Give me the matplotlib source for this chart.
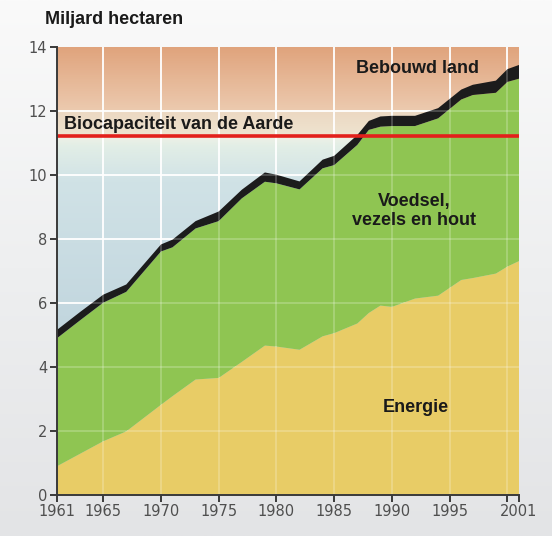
import numpy as np
import matplotlib
matplotlib.use("Agg")
import matplotlib.pyplot as plt
from matplotlib.colors import LinearSegmentedColormap

# values (miljard hectaren)
years = [1961, 1963, 1965, 1967, 1970, 1971, 1973, 1975, 1977, 1979, 1980, 1982, 1984,
         1985, 1987, 1988, 1989, 1990, 1992, 1994, 1996, 1997, 1999, 2000, 2001]
energie = [0.89, 1.28, 1.67, 1.98, 2.81, 3.08, 3.60, 3.65, 4.15, 4.66, 4.63, 4.53, 4.95,
           5.05, 5.35, 5.68, 5.91, 5.87, 6.13, 6.22, 6.71, 6.77, 6.91, 7.13, 7.30]
voedsel = [4.00, 4.17, 4.33, 4.36, 4.79, 4.65, 4.72, 4.90, 5.11, 5.12, 5.10, 5.01, 5.25,
           5.25, 5.58, 5.72, 5.59, 5.65, 5.39, 5.54, 5.64, 5.72, 5.65, 5.77, 5.70]
bebouwd = [0.26, 0.26, 0.25, 0.23, 0.22, 0.24, 0.23, 0.30, 0.27, 0.29, 0.27, 0.25, 0.27,
           0.29, 0.31, 0.28, 0.32, 0.32, 0.32, 0.32, 0.31, 0.32, 0.38, 0.40, 0.43]
biocapaciteit = 11.2

xticks = [1961, 1965, 1970, 1975, 1980, 1985, 1990, 1995, 2000, 2001]
xticklabels = ['1961', '1965', '1970', '1975', '1980', '1985', '1990', '1995', '', '2001']
yticks = [0, 2, 4, 6, 8, 10, 12, 14]

fig = plt.figure(figsize=(5.52, 5.36), dpi=100)

# light grey page background, slightly whiter at the top
bg = fig.add_axes([0, 0, 1, 1], zorder=-10)
page = LinearSegmentedColormap.from_list('page', ['#e3e4e6', '#eeeff0', '#fafafa'])
bg.imshow(np.linspace(0, 1, 256).reshape(-1, 1), cmap=page, origin='lower',
          aspect='auto', extent=[0, 1, 0, 1])
bg.axis('off')

ax = fig.add_axes([57/552, 1 - 494.7/536, 462/552, 448/536])

# sky gradient behind the areas
sky = LinearSegmentedColormap.from_list('sky', [
    (0.0, '#bdd2dd'), (0.40, '#c3d7df'), (0.70, '#d0e2e6'), (0.78, '#e2eee6'),
    (0.80, '#eef1e6'), (0.805, '#eee3cf'), (0.855, '#ecd9c3'), (0.86, '#eccaaf'),
    (1.0, '#e0a47d')])
ax.imshow(np.linspace(0, 1, 512).reshape(-1, 1), cmap=sky, origin='lower',
          aspect='auto', extent=[1961, 2001, 0, 14], zorder=0, vmin=0, vmax=1)
ax.set_xlim(1961, 2001)
ax.set_ylim(0, 14)

gx = [1965, 1970, 1975, 1980, 1985, 1990, 1995, 2000]
gy = [2, 4, 6, 8, 10, 12]
for x in gx:
    ax.axvline(x, color='white', lw=1.3, zorder=1)
for y in gy:
    ax.axhline(y, color='white', lw=1.3, zorder=1)

ax.stackplot(years, energie, voedsel, bebouwd,
             colors=['#e8cc66', '#8fc552', '#1c1c1c'], zorder=2)

# grid shows faintly through the coloured areas
for x in gx:
    ax.axvline(x, color='white', lw=1.2, alpha=0.25, zorder=3)
for y in gy:
    ax.axhline(y, color='white', lw=1.2, alpha=0.25, zorder=3)

ax.axhline(biocapaciteit, color='#e3201b', lw=2.6, zorder=4)

lab = dict(fontsize=13, fontweight='bold', color='#1a1a1a', va='center',
           family='Liberation Sans', zorder=5)
ax.text(1961.6, 11.57, 'Biocapaciteit van de Aarde', ha='left', **lab)
ax.text(1992.2, 13.33, 'Bebouwd land', ha='center', **lab)
ax.text(1991.9, 8.86, 'Voedsel,\nvezels en hout', ha='center', linespacing=1.15, **lab)
ax.text(1992.1, 2.71, 'Energie', ha='center', **lab)

fig.text(45/552, 1 - 20/536, 'Miljard hectaren', fontsize=13, fontweight='bold',
         color='#1a1a1a', va='center', ha='left', family='Liberation Sans')

ax.set_xticks(xticks)
ax.set_xticklabels(xticklabels)
ax.set_yticks(yticks)
ax.tick_params(axis='both', direction='out', length=5, width=1.4, color='#3a3a3a',
               labelcolor='#4f4f4f', labelsize=10.5, pad=2)
for s in ['top', 'right']:
    ax.spines[s].set_visible(False)
for s in ['left', 'bottom']:
    ax.spines[s].set_color('#3a3a3a')
    ax.spines[s].set_linewidth(1.4)
    ax.spines[s].set_zorder(6)

fig.savefig('out.png', dpi=100)
